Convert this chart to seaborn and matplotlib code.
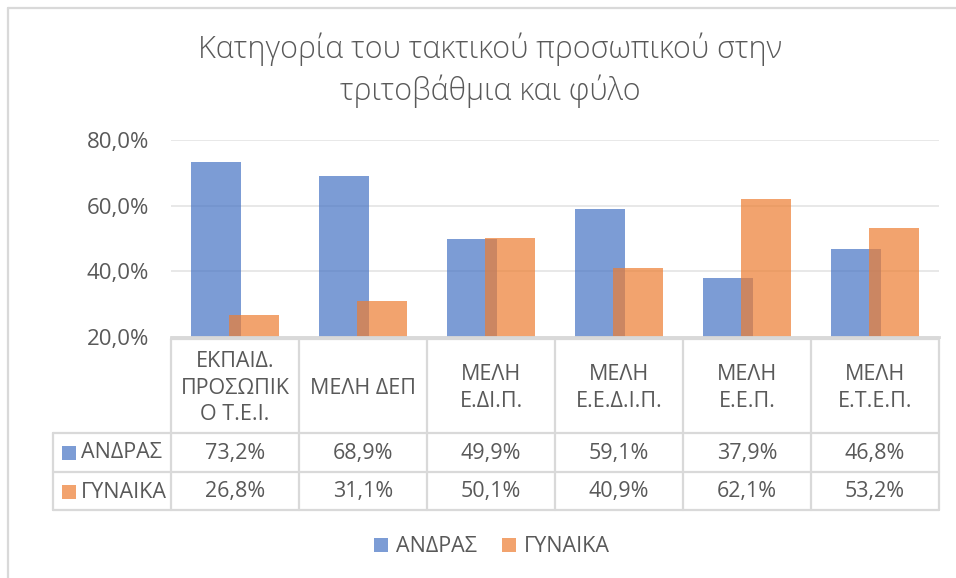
import seaborn as sns
import matplotlib.pyplot as plt
import pandas as pd
from matplotlib.lines import Line2D
from matplotlib.patches import Rectangle, Patch
from matplotlib.transforms import blended_transform_factory

# chart data
categories = ['ΕΚΠΑΙΔ.\nΠΡΟΣΩΠΙΚ\nΟ Τ.Ε.Ι.', 'ΜΕΛΗ ΔΕΠ', 'ΜΕΛΗ\nΕ.ΔΙ.Π.',
              'ΜΕΛΗ\nΕ.Ε.Δ.Ι.Π.', 'ΜΕΛΗ\nΕ.Ε.Π.', 'ΜΕΛΗ\nΕ.Τ.Ε.Π.']
series = ['ΑΝΔΡΑΣ', 'ΓΥΝΑΙΚΑ']
men = [73.2, 68.9, 49.9, 59.1, 37.9, 46.8]
women = [26.8, 31.1, 50.1, 40.9, 62.1, 53.2]
y_ticks = [20, 40, 60, 80]
title = 'Κατηγορία του τακτικού προσωπικού στην\nτριτοβάθμια και φύλο'

colors = ['#4472C4', '#ED7D31']
ALPHA = 0.7
GREY = '#595959'
LINE = '#D9D9D9'

W, H = 956, 578


def fx(px):
    return px / W


def fy(px):
    return 1 - px / H


sns.set_theme(style='white')
plt.rcParams['font.family'] = ['Open Sans', 'DejaVu Sans']

df = pd.DataFrame({
    'cat': categories * 2,
    'val': men + women,
    'sex': [series[0]] * len(men) + [series[1]] * len(women),
})

fig = plt.figure(figsize=(W / 100, H / 100), dpi=100)
ax = fig.add_axes([fx(171), fy(337), fx(939) - fx(171), fy(140) - fy(337)])

sns.barplot(data=df, x='cat', y='val', hue='sex', palette=colors, width=0.78,
            saturation=1, alpha=ALPHA, linewidth=0, legend=False, ax=ax)

# overlap the two bars in each group like excel does
for cont, shift in zip(ax.containers, [0.048, -0.048]):
    for bar in cont:
        bar.set_x(bar.get_x() + shift)

ax.set_xlim(-0.5, len(categories) - 0.5)
ax.set_ylim(20, 80)
ax.set_yticks(y_ticks)
ax.set_yticklabels([f'{v:.1f}%'.replace('.', ',') for v in y_ticks], color=GREY, fontsize=16)
ax.tick_params(axis='y', length=0, pad=16)
ax.set_xticks([])
ax.set_xlabel('')
ax.set_ylabel('')
ax.yaxis.grid(True, color='#E6E6E6', lw=1.3)
ax.set_axisbelow(True)
for s in ['top', 'right', 'left']:
    ax.spines[s].set_visible(False)
ax.spines['bottom'].set_color(LINE)
ax.spines['bottom'].set_linewidth(2)

# data table below the plot
tr = blended_transform_factory(ax.transData, fig.transFigure)
x_label_left = -0.5 - (171 - 53) / 128
x_right = len(categories) - 0.5

row_tops = [339, 433, 472, 510]
fig.add_artist(Line2D([-0.5, x_right], [fy(339)] * 2, transform=tr, color=LINE, lw=1.6))
for yy in row_tops[1:]:
    fig.add_artist(Line2D([x_label_left, x_right], [fy(yy)] * 2, transform=tr, color=LINE, lw=1.6))
fig.add_artist(Line2D([x_label_left] * 2, [fy(433), fy(510)], transform=tr, color=LINE, lw=1.6))
for k in range(len(categories) + 1):
    fig.add_artist(Line2D([k - 0.5] * 2, [fy(339), fy(510)], transform=tr, color=LINE, lw=1.6))

for i, cat in enumerate(categories):
    fig.text(i, fy(388), cat, transform=tr, ha='center', va='center',
             fontsize=15.5, color=GREY, linespacing=1.35)
    fig.text(i, fy(453), f'{men[i]:.1f}%'.replace('.', ','), transform=tr,
             ha='center', va='center', fontsize=15.5, color=GREY)
    fig.text(i, fy(492), f'{women[i]:.1f}%'.replace('.', ','), transform=tr,
             ha='center', va='center', fontsize=15.5, color=GREY)

for name, col, yc in zip(series, colors, [453, 492]):
    fig.add_artist(Rectangle((fx(62), fy(yc + 7)), fx(14), fy(yc - 7) - fy(yc + 7),
                             transform=fig.transFigure, color=col, alpha=ALPHA, lw=0))
    fig.text(fx(81), fy(yc), name, ha='left', va='center', fontsize=15.5, color=GREY)

# bottom legend
handles = [Patch(facecolor=c, alpha=ALPHA, lw=0) for c in colors]
fig.legend(handles, series, loc='center', bbox_to_anchor=(fx(492), fy(547)), ncol=2,
           frameon=False, fontsize=15.5, labelcolor=GREY, handlelength=0.65,
           handleheight=0.65, handletextpad=0.35, columnspacing=1.2)

# title
fig.text(fx(490), fy(70), title, ha='center', va='center', fontsize=22,
         color=GREY, fontweight='light', linespacing=1.35)

# chart frame
fig.add_artist(Line2D([fx(8), fx(8)], [fy(8), 0], transform=fig.transFigure, color=LINE, lw=1.6))
fig.add_artist(Line2D([fx(8), 1], [fy(8), fy(8)], transform=fig.transFigure, color=LINE, lw=1.6))

fig.savefig('out.png', dpi=100)
